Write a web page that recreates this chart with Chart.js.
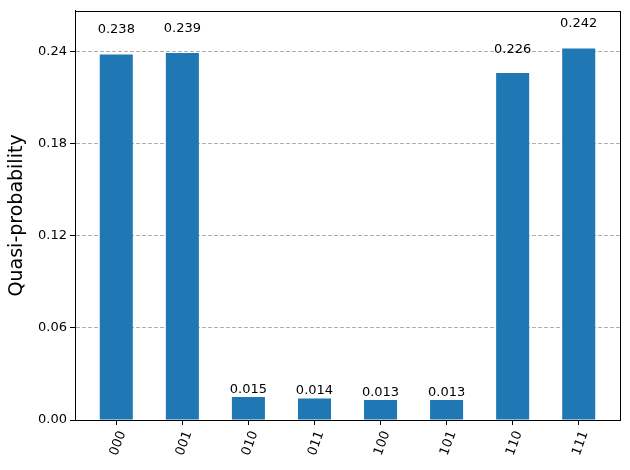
<!DOCTYPE html>
<html>
<head>
<meta charset="utf-8">
<script src="https://cdn.jsdelivr.net/npm/chart.js@4"></script>
<style>
	html, body { margin: 0; padding: 0; background: #fff; }
	#wrap { width: 630px; height: 470px; }
</style>
</head>
<body>
<div id="wrap"><canvas id="quasiChart" width="630" height="470"></canvas></div>
<script>
// bitstring outcomes and their quasi-probabilities
const states = ['000', '001', '010', '011', '100', '101', '110', '111'];
const quasiProbs = [0.238, 0.239, 0.015, 0.014, 0.013, 0.013, 0.226, 0.242];
const yTicks = [0, 0.06, 0.12, 0.18, 0.24];

const FONT = "'DejaVu Sans', sans-serif";

// value text above each bar, placed at 1.05 * height like the original
const barLabels = {
	id: 'barLabels',
	afterDatasetsDraw(chart) {
		const ctx = chart.ctx;
		const meta = chart.getDatasetMeta(0);
		const yScale = chart.scales.y;
		ctx.save();
		ctx.font = '13px ' + FONT;
		ctx.fillStyle = '#000';
		ctx.textAlign = 'center';
		ctx.textBaseline = 'bottom';
		meta.data.forEach((bar, i) => {
			const v = quasiProbs[i];
			ctx.fillText(v.toFixed(3), bar.x, yScale.getPixelForValue(1.05 * v));
		});
		ctx.restore();
	}
};

// full black frame around the plot area
const frame = {
	id: 'frame',
	afterDraw(chart) {
		const a = chart.chartArea;
		const ctx = chart.ctx;
		ctx.save();
		ctx.strokeStyle = '#000';
		ctx.lineWidth = 1;
		ctx.strokeRect(Math.round(a.left) + 0.5, Math.round(a.top) + 0.5,
			Math.round(a.right - a.left), Math.round(a.bottom - a.top));
		ctx.restore();
	}
};

const ctx = document.getElementById('quasiChart').getContext('2d');
new Chart(ctx, {
	type: 'bar',
	data: {
		datasets: [{
			data: states.map((s, i) => ({ x: i, y: quasiProbs[i] })),
			backgroundColor: '#1f77b4',
			borderColor: '#1f77b4',
			borderWidth: 0,
			barPercentage: 0.5,
			categoryPercentage: 1.0
		}]
	},
	options: {
		responsive: false,
		animation: false,
		layout: { padding: { top: 10, right: 10, left: 0, bottom: 0 } },
		plugins: {
			legend: { display: false },
			tooltip: { enabled: false }
		},
		scales: {
			x: {
				type: 'linear',
				min: -0.625,
				max: 7.625,
				offset: false,
				afterBuildTicks: scale => {
					scale.ticks = states.map((s, i) => ({ value: i }));
				},
				afterFit: scale => { scale.height = 50; },
				ticks: {
					color: '#000',
					font: { family: FONT, size: 13 },
					minRotation: 70,
					maxRotation: 70,
					padding: 4,
					labelOffset: 6,
					callback: value => states[value]
				},
				grid: {
					offset: false,
					drawOnChartArea: false,
					drawTicks: true,
					tickLength: 5,
					tickColor: '#000'
				},
				border: { color: '#000' }
			},
			y: {
				min: 0,
				max: 0.2665,
				afterBuildTicks: scale => {
					scale.ticks = yTicks.map(v => ({ value: v }));
				},
				afterFit: scale => { scale.width = 75; },
				ticks: {
					color: '#000',
					font: { family: FONT, size: 13 },
					padding: 3,
					callback: value => value.toFixed(2)
				},
				grid: {
					color: '#b0b0b0',
					tickColor: '#000',
					tickLength: 5
				},
				border: { color: '#000', dash: [4, 2] },
				title: {
					display: true,
					text: 'Quasi-probability',
					color: '#000',
					font: { family: FONT, size: 19 },
					padding: { top: 6, bottom: 0 }
				}
			}
		}
	},
	plugins: [barLabels, frame]
});
</script>
</body>
</html>
